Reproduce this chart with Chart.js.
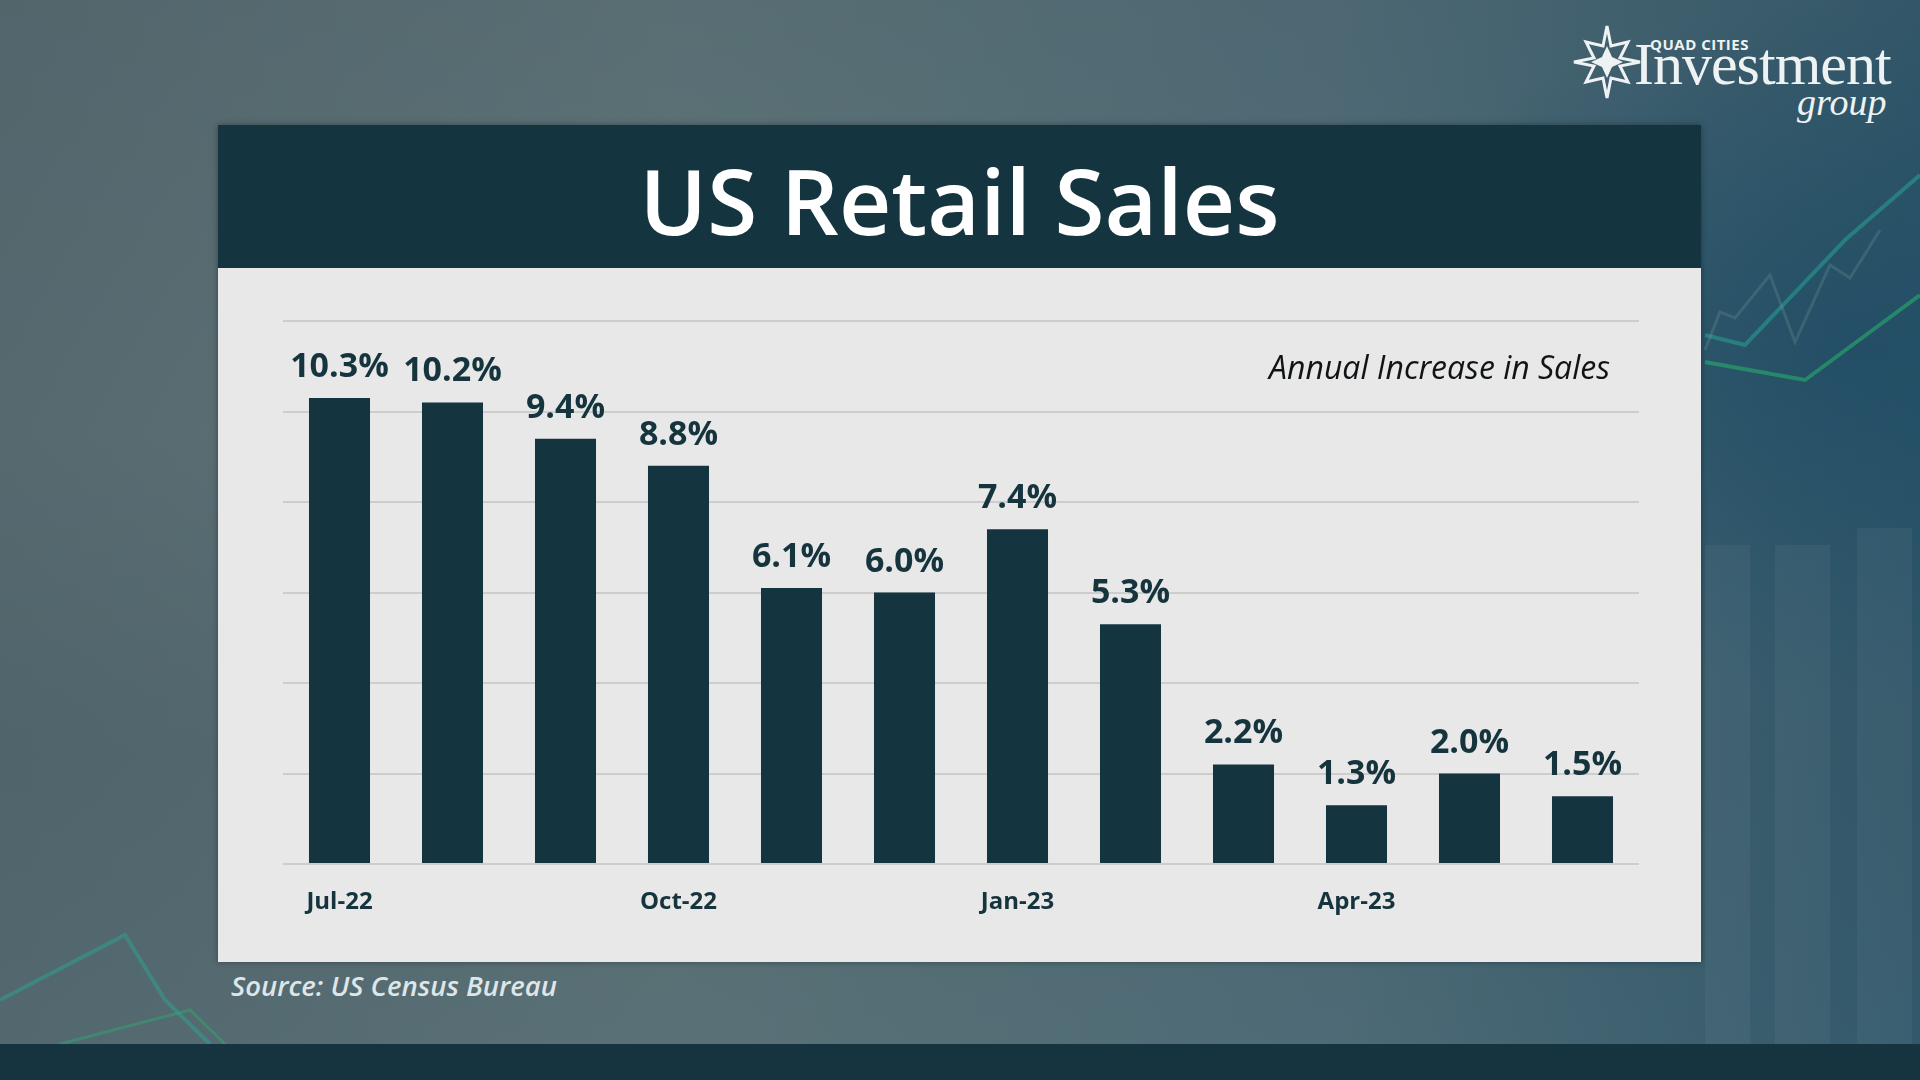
<!DOCTYPE html>
<html>
<head>
<meta charset="utf-8">
<script src="https://cdn.jsdelivr.net/npm/chart.js@4"></script>
<style>
  html, body { margin: 0; padding: 0; }
  body {
    width: 1920px; height: 1080px; overflow: hidden; position: relative;
    font-family: "Open Sans", "Noto Sans", sans-serif;
    background:
      radial-gradient(ellipse 700px 500px at 1850px 350px, rgba(30,75,100,0.75), rgba(30,75,100,0) 70%),
      linear-gradient(180deg, rgba(70,90,98,0.25) 0%, rgba(60,85,95,0.0) 40%, rgba(60,85,95,0.25) 70%, rgba(70,100,110,0.2) 100%),
      linear-gradient(90deg, #56696f 0%, #5f7579 35%, #4f6c78 70%, #2d566a 100%);
  }
  #deco { position: absolute; left: 0; top: 0; }
  #bottomBar { position: absolute; left: 0; top: 1044px; width: 1920px; height: 36px; background: #163440; }
  #panel {
    position: absolute; left: 218px; top: 125px; width: 1483px; height: 837px;
    background: #e8e8e8; box-shadow: 0 0 6px rgba(0,0,0,0.35);
  }
  #banner {
    position: absolute; left: 0; top: 0; width: 1483px; height: 143px; background: #14343f;
    color: #ffffff; font-weight: 600; font-size: 91px; text-align: center; line-height: 150px;
    box-sizing: border-box;
  }
  #subtitle {
    position: absolute; right: 91px; top: 220px; font-style: italic; font-size: 32px; color: #111416;
    font-weight: 500;
  }
  #chartCanvas { position: absolute; left: 0; top: 143px; }
  #source {
    position: absolute; left: 231px; top: 967px; font-style: italic; font-weight: 600;
    font-size: 27.5px; color: #dfe6e8;
  }
  #logo { position: absolute; left: 1572px; top: 22px; width: 330px; height: 100px; color: #eef2f3; }
  #logo .quad { position: absolute; left: 78px; top: 12px; font-family: "Open Sans", sans-serif; font-weight: 700; font-size: 15px; letter-spacing: 0.5px; }
  #logo .inv { position: absolute; left: 62px; top: 10px; font-family: "Liberation Serif", "DejaVu Serif", serif; font-size: 60px; line-height: 64px; letter-spacing: -1px; }
  #logo .grp { position: absolute; left: 225px; top: 58px; font-family: "Liberation Serif", "DejaVu Serif", serif; font-style: italic; font-size: 38px; }
  #logo svg { position: absolute; left: 0; top: 0; }
</style>
</head>
<body>
<svg id="deco" width="1920" height="1080">
  <g fill="rgba(120,150,160,0.12)">
    <rect x="1705" y="545" width="45" height="500"/>
    <rect x="1775" y="545" width="55" height="500"/>
    <rect x="1857" y="528" width="55" height="520"/>
  </g>
  <polyline points="1705,335 1745,345 1845,240 1920,175" fill="none" stroke="rgba(40,170,150,0.5)" stroke-width="4"/>
  <polyline points="1705,362 1805,380 1920,295" fill="none" stroke="rgba(40,180,110,0.55)" stroke-width="4"/>
  <polyline points="1705,350 1720,312 1735,318 1770,275 1795,342 1830,265 1850,278 1880,230" fill="none" stroke="rgba(140,180,170,0.2)" stroke-width="3"/>
  <polyline points="0,1000 125,935 165,1000 210,1044" fill="none" stroke="rgba(40,170,150,0.45)" stroke-width="4"/>
  <polyline points="60,1044 190,1010 225,1044" fill="none" stroke="rgba(40,180,110,0.4)" stroke-width="3"/>
</svg>

<div id="logo">
  <svg width="70" height="80" viewBox="0 0 70 80">
    <path d="M35 4 L39 24 L56 20 L48 36 L68 40 L48 44 L56 60 L39 56 L35 76 L31 56 L14 60 L22 44 L2 40 L22 36 L14 20 L31 24 Z"
          fill="none" stroke="#eef2f3" stroke-width="3"/>
    <path d="M35 24 L40 35 L51 40 L40 45 L35 56 L30 45 L19 40 L30 35 Z" fill="#eef2f3"/>
  </svg>
  <div class="quad">QUAD CITIES</div>
  <div class="inv">Investment</div>
  <div class="grp">group</div>
</div>

<div id="panel">
  <div id="banner">US Retail Sales</div>
  <canvas id="chartCanvas" width="1483" height="694"></canvas>
  <div id="subtitle">Annual Increase in Sales</div>
</div>
<div id="source">Source: US Census Bureau</div>
<div id="bottomBar"></div>

<script>
// 데이터
const months = ['Jul-22', 'Aug-22', 'Sep-22', 'Oct-22', 'Nov-22', 'Dec-22',
                'Jan-23', 'Feb-23', 'Mar-23', 'Apr-23', 'May-23', 'Jun-23'];
const salesGrowth = [10.3, 10.2, 9.4, 8.8, 6.1, 6.0, 7.4, 5.3, 2.2, 1.3, 2.0, 1.5];
const yTicks = [0, 2, 4, 6, 8, 10, 12];

const barColor = '#143540';
const textColor = '#15343e';

// 막대 위 값 라벨
const valueLabels = {
    id: 'valueLabels',
    afterDatasetsDraw(chart) {
        const ctx = chart.ctx;
        const meta = chart.getDatasetMeta(0);
        ctx.save();
        ctx.font = 'bold 34px "Open Sans", sans-serif';
        ctx.fillStyle = textColor;
        ctx.textAlign = 'center';
        ctx.textBaseline = 'alphabetic';
        meta.data.forEach((bar, i) => {
            ctx.fillText(salesGrowth[i].toFixed(1) + '%', bar.x, bar.y - 21);
        });
        ctx.restore();
    }
};

new Chart(document.getElementById('chartCanvas').getContext('2d'), {
    type: 'bar',
    data: {
        labels: months,
        datasets: [{
            data: salesGrowth,
            backgroundColor: barColor,
            borderWidth: 0,
            categoryPercentage: 1.0,
            barPercentage: 0.54
        }]
    },
    options: {
        responsive: false,
        animation: false,
        devicePixelRatio: 1,
        layout: { padding: { left: 65, right: 62, top: 53, bottom: 0 } },
        plugins: {
            legend: { display: false },
            tooltip: { enabled: false }
        },
        scales: {
            x: {
                grid: { display: false },
                border: { display: false },
                ticks: {
                    autoSkip: false,
                    maxRotation: 0,
                    padding: 16,
                    color: textColor,
                    font: { family: '"Open Sans", sans-serif', size: 24, weight: 'bold' },
                    callback: (v, i) => (i % 3 === 0 ? months[i] : '')
                },
                afterFit: s => { s.height = 98; }
            },
            y: {
                min: yTicks[0],
                max: yTicks[yTicks.length - 1],
                afterBuildTicks: s => { s.ticks = yTicks.map(v => ({ value: v })); },
                ticks: { display: false },
                border: { display: false },
                grid: { color: '#cdcdcd', lineWidth: 2, drawTicks: false },
                afterFit: s => { s.width = 0; }
            }
        }
    },
    plugins: [valueLabels]
});
</script>
</body>
</html>
